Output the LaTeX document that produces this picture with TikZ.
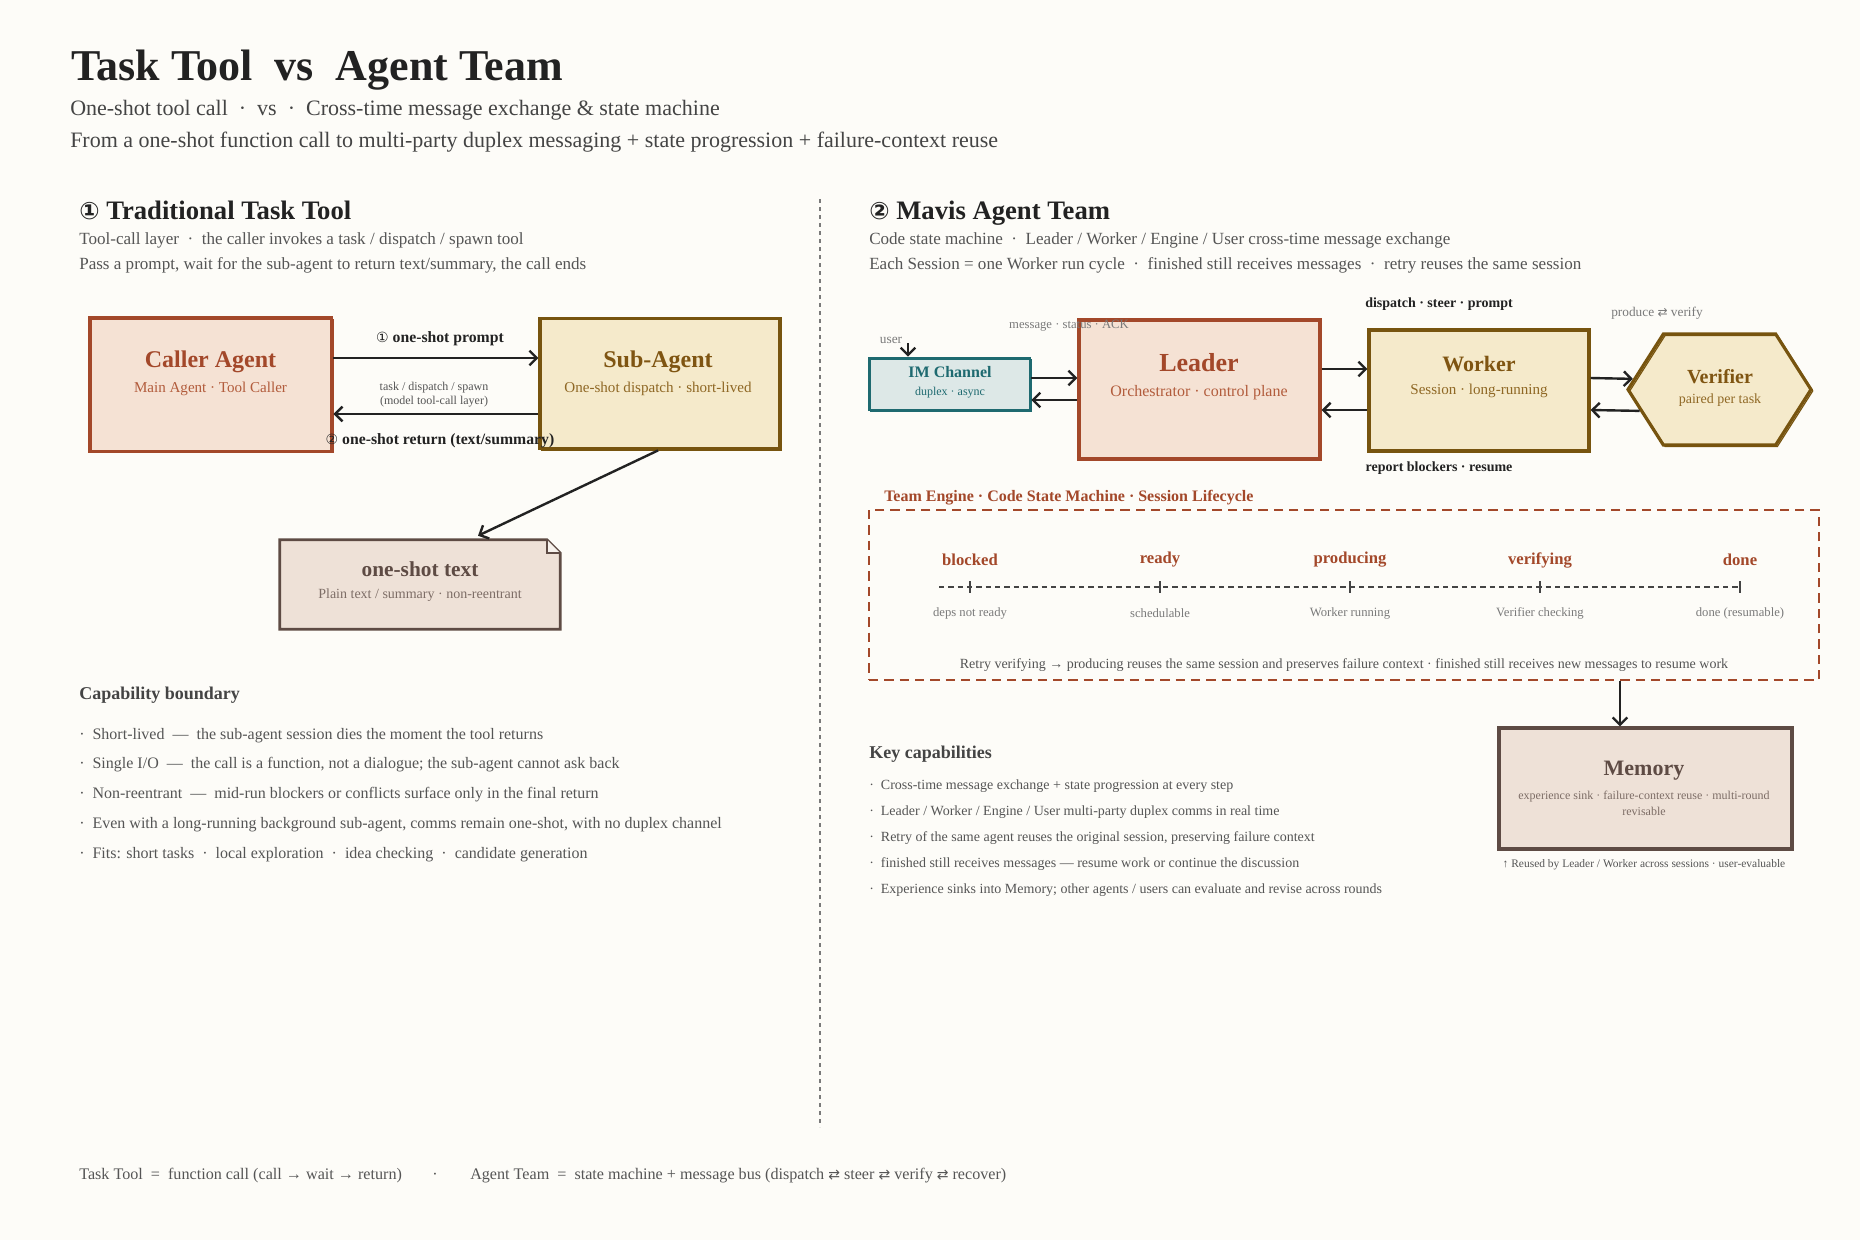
\documentclass[tikz,border=0pt]{standalone}
\usepackage{fontspec}
\setmainfont{Liberation Serif}
\newfontfamily\dvsym{DejaVu Sans}
\usepackage{tikz}
\usetikzlibrary{arrows.meta,positioning,calc,shapes.symbols}
\definecolor{paperBg}{HTML}{FDFCF8}
\definecolor{inkDark}{HTML}{222222}
\definecolor{inkMid}{HTML}{444444}
\definecolor{inkGray}{HTML}{555555}
\definecolor{inkSoft}{HTML}{7A7A7A}
\definecolor{rustLine}{HTML}{A3482A}
\definecolor{rustSoft}{HTML}{B25C3C}
\definecolor{rustFill}{HTML}{F5E2D4}
\definecolor{ochreLine}{HTML}{77540F}
\definecolor{ochreText}{HTML}{7F5512}
\definecolor{ochreSoft}{HTML}{8F6825}
\definecolor{ochreFill}{HTML}{F5EACB}
\definecolor{tealLine}{HTML}{1E6A70}
\definecolor{tealFill}{HTML}{DDE8E7}
\definecolor{umberLine}{HTML}{5E4B44}
\definecolor{umberSoft}{HTML}{7D6D66}
\definecolor{umberFill}{HTML}{EEE1D7}
\newcommand{\fsz}[1]{\fontsize{#1}{#1}\selectfont}
\tikzset{
  txt/.style={anchor=base west,inner sep=0pt},
  lbl/.style={inner sep=0pt},
  actor/.style={draw,line width=2.4pt,inner sep=0pt,
    postaction={draw,line width=0.9pt,transform canvas={shift={(1.3pt,-1.1pt)}}}},
  boxtitle/.style={inner sep=0pt,font=\bfseries\fsz{18}},
  boxsub/.style={inner sep=0pt,font=\fsz{11.3}},
  flow/.style={->,line width=1.8pt,inkDark},
  divider/.style={draw=inkSoft,line width=0.8pt,dash pattern=on 3pt off 3pt},
  engine/.style={draw=rustLine,line width=1.6pt,dash pattern=on 7pt off 4.5pt,inner sep=0pt},
  timeline/.style={draw=inkMid,line width=1pt,dash pattern=on 4pt off 3pt},
  tick/.style={draw=inkMid,line width=1.2pt},
  notebox/.style={draw=umberLine,line width=2pt,fill=umberFill}
}
\begin{document}
\begin{tikzpicture}[x=0.75pt,y=-0.75pt,>={Straight Barb[length=5.5pt,width=11pt]}]
  \fill[paperBg] (0,0) rectangle (1860,1240);
  \useasboundingbox (0,0) rectangle (1860,1240);

  % header
  \node[txt,font=\bfseries\fsz{33},text=inkDark] (title) at (71,80) {Task Tool\ \ vs\ \ Agent Team};
  \node[txt,font=\fsz{16.5},text=inkMid] (sub1) at (70,115) {One-shot tool call~~·~~vs~~·~~Cross-time message exchange \& state machine};
  \node[txt,font=\fsz{16.5},text=inkMid] (sub2) at (70,147) {From a one-shot function call to multi-party duplex messaging + state progression + failure-context reuse};
  \draw[divider] (820,199) -- (820,1127);

  % left: traditional task tool
  \node[txt,font=\bfseries\fsz{20},text=inkDark] (hleft) at (79,219) {{\dvsym\fsz{18}①} Traditional Task Tool};
  \node[txt,font=\fsz{12.8},text=inkGray] (hleft1) at (79,244) {Tool-call layer~~·~~the caller invokes a task / dispatch / spawn tool};
  \node[txt,font=\fsz{12.8},text=inkGray] (hleft2) at (79,269) {Pass a prompt, wait for the sub-agent to return text/summary, the call ends};

  \node[actor,draw=rustLine,fill=rustFill,minimum width=182pt,minimum height=100pt] (caller) at (210.5,384.5) {};
  \node[boxtitle,text=rustLine] (callerT) at (210.5,362) {Caller Agent};
  \node[boxsub,text=rustSoft] (callerS) at (210.5,389) {Main Agent · Tool Caller};
  \node[actor,draw=ochreLine,fill=ochreFill,minimum width=180pt,minimum height=98pt] (sub) at (660,383.5) {};
  \node[boxtitle,text=ochreText] (subT) at (658,362) {Sub-Agent};
  \node[boxsub,text=ochreSoft] (subS) at (658,389) {One-shot dispatch · short-lived};

  \draw[flow] (caller.east |- 0,358) -- (sub.west |- 0,358);
  \draw[flow] (sub.west |- 0,414) -- (caller.east |- 0,414);
  \node[lbl,font=\bfseries\fsz{11.8},text=inkDark] (lprompt) at (440,339) {{\dvsym\mdseries\fsz{10.5}①} one-shot prompt};
  \node[lbl,font=\fsz{9},text=inkGray] (ltask) at (434,388) {task / dispatch / spawn};
  \node[lbl,font=\fsz{9},text=inkGray] (ltool) at (434,402) {(model tool-call layer)};
  \node[lbl,font=\bfseries\fsz{11.8},text=inkDark] (lreturn) at (440,441) {{\dvsym\mdseries\fsz{10.5}②} one-shot return (text/summary)};

  \node[lbl,minimum width=210pt,minimum height=66.75pt] (note) at (420,584.5) {};
  \filldraw[notebox] (note.north west) -- ([xshift=-10pt]note.north east) -- ([yshift=-10pt]note.north east)
    -- (note.south east) -- (note.south west) -- cycle;
  \draw[notebox,fill=white!55!umberFill,line width=1.2pt] ([xshift=-10pt]note.north east)
    -- ([xshift=-10pt,yshift=-10pt]note.north east) -- ([yshift=-10pt]note.north east);
  \node[boxtitle,font=\bfseries\fsz{16},text=umberLine] (noteT) at (420,569) {one-shot text};
  \node[boxsub,font=\fsz{10.5},text=umberSoft] (noteS) at (420,595) {Plain text / summary · non-reentrant};
  \draw[flow] (658,0 |- sub.south) -- ([yshift=3pt]478,0 |- note.north);

  \node[txt,font=\bfseries\fsz{13.5},text=inkMid] (capH) at (79,699) {Capability boundary};
  \foreach \t [count=\i] in {{Short-lived~~—~~the sub-agent session dies the moment the tool returns},
      {Single I/O~~—~~the call is a function, not a dialogue; the sub-agent cannot ask back},
      {Non-reentrant~~—~~mid-run blockers or conflicts surface only in the final return},
      {Even with a long-running background sub-agent, comms remain one-shot, with no duplex channel},
      {Fits: short tasks~~·~~local exploration~~·~~idea checking~~·~~candidate generation}}
    \node[txt,font=\fsz{12},text=inkGray] (cap\i) at (79,{739+(\i-1)*29.9}) {·~~\t};

  % right: mavis agent team
  \node[txt,font=\bfseries\fsz{20},text=inkDark] (hright) at (869,219) {{\dvsym\fsz{18}②} Mavis Agent Team};
  \node[txt,font=\fsz{12.8},text=inkGray] (hright1) at (869,244) {Code state machine~~·~~Leader / Worker / Engine / User cross-time message exchange};
  \node[txt,font=\fsz{12.8},text=inkGray] (hright2) at (869,269) {Each Session = one Worker run cycle~~·~~finished still receives messages~~·~~retry reuses the same session};

  \node[actor,line width=2pt,draw=tealLine,fill=tealFill,minimum width=120.75pt,minimum height=39pt] (im) at (949.5,384) {};
  \node[boxtitle,font=\bfseries\fsz{12},text=tealLine] (imT) at (950,372) {IM Channel};
  \node[boxsub,font=\fsz{9},text=tealLine] (imS) at (950,393) {duplex · async};
  \node[lbl,font=\fsz{10},text=inkSoft] (user) at (891,340) {user};
  \coordinate (userpt) at (908,343);
  \draw[flow] (userpt) -- (userpt |- im.north);

  \node[actor,draw=rustLine,fill=rustFill,minimum width=180.75pt,minimum height=104.25pt] (leader) at (1199.5,389.5) {};
  \node[lbl,font=\fsz{9.5},text=inkSoft] (lmsg) at (1069,326) {message · status · ACK};
  \node[boxtitle,font=\bfseries\fsz{19.5},text=rustLine] (leaderT) at (1199,363) {Leader};
  \node[boxsub,font=\fsz{12},text=rustSoft] (leaderS) at (1199,393) {Orchestrator · control plane};
  \node[actor,draw=ochreLine,fill=ochreFill,minimum width=165pt,minimum height=90.75pt] (worker) at (1479,390.5) {};
  \node[boxtitle,font=\bfseries\fsz{16.5},text=ochreText] (workerT) at (1479,364) {Worker};
  \node[boxsub,text=ochreSoft] (workerS) at (1479,391) {Session · long-running};
  \node[actor,signal,signal to=east and west,signal pointer angle=115,draw=ochreLine,fill=ochreFill,
    minimum width=137.25pt,minimum height=83.25pt] (ver) at (1719.5,389.5) {};
  \node[boxtitle,font=\bfseries\fsz{15},text=ochreText] (verT) at (1720,377) {Verifier};
  \node[boxsub,font=\fsz{10.5},text=ochreSoft] (verS) at (1720,400) {paired per task};

  \draw[flow] (im.east |- 0,378) -- (leader.west |- 0,378);
  \draw[flow] (leader.west |- 0,400) -- (im.east |- 0,400);
  \draw[flow] (leader.east |- 0,369) -- (worker.west |- 0,369);
  \draw[flow] (worker.west |- 0,410) -- (leader.east |- 0,410);
  \draw[flow] (worker.east |- 0,378) -- (ver.173);
  \draw[flow] (ver.195) -- (worker.east |- 0,410);
  \node[lbl,font=\bfseries\fsz{10.5},text=inkDark] (ldispatch) at (1439,304) {dispatch · steer · prompt};
  \node[lbl,font=\bfseries\fsz{10.5},text=inkDark] (lreport) at (1439,468) {report blockers · resume};
  \node[lbl,font=\fsz{10},text=inkSoft] (lpv) at (1657,313) {produce {\dvsym\fsz{9}⇄} verify};

  % team engine
  \node[txt,font=\bfseries\fsz{12},text=rustLine] (engineH) at (884,501) {Team Engine · Code State Machine · Session Lifecycle};
  \node[engine,minimum width=712.5pt,minimum height=127.5pt] (engine) at (1344,595) {};
  \coordinate (tlstart) at (939,587);
  \foreach \x/\s/\d [count=\i] in {970/blocked/deps not ready, 1160/ready/schedulable, 1350/producing/Worker running,
      1540/verifying/Verifier checking, 1740/done/done (resumable)} {
    \node[lbl,font=\bfseries\fsz{12.5},text=rustLine] (st\i) at (\x,560) {\s};
    \node[lbl,font=\fsz{9.5},text=inkSoft] (sd\i) at (\x,613) {\d};
    \draw[tick] (\x,581) -- (\x,593);
  }
  \draw[timeline] (tlstart) -- (st5 |- tlstart);
  \node[lbl,font=\fsz{10.5},text=inkGray] (lretry) at (1344,665) {Retry verifying → producing reuses the same session and preserves failure context · finished still receives new messages to resume work};

  \node[actor,draw=umberLine,fill=umberFill,minimum width=219.75pt,minimum height=90.75pt] (mem) at (1645.5,788.5) {};
  \node[boxtitle,font=\bfseries\fsz{16.5},text=umberLine] (memT) at (1644,771) {Memory};
  \node[lbl,font=\fsz{9},text=umberSoft,align=center] (memS) at (1644,803) {experience sink · failure-context reuse · multi-round\\[3pt]revisable};
  \draw[flow] (1620,0 |- engine.south) -- (1620,0 |- mem.north);
  \node[lbl,font=\fsz{8.6},text=inkGray] (memC) at (1644,865) {↑ Reused by Leader / Worker across sessions · user-evaluable};

  \node[txt,font=\bfseries\fsz{13.5},text=inkMid] (keyH) at (869,758) {Key capabilities};
  \foreach \t [count=\i] in {{Cross-time message exchange + state progression at every step},
      {Leader / Worker / Engine / User multi-party duplex comms in real time},
      {Retry of the same agent reuses the original session, preserving failure context},
      {finished still receives messages — resume work or continue the discussion},
      {Experience sinks into Memory; other agents / users can evaluate and revise across rounds}}
    \node[txt,font=\fsz{10.5},text=inkGray] (key\i) at (869,{789+(\i-1)*26}) {·~~\t};

  % footer
  \node[txt,font=\fsz{12.1},text=inkGray] (footL) at (79,1179) {Task Tool~~=~~function call (call → wait → return)};
  \node[txt,font=\fsz{12.1},text=inkGray] (footDot) at (432,1179) {·};
  \node[txt,font=\fsz{12.1},text=inkGray] (footR) at (470,1179) {Agent Team~~=~~state machine + message bus (dispatch {\dvsym\fsz{10.5}⇄} steer {\dvsym\fsz{10.5}⇄} verify {\dvsym\fsz{10.5}⇄} recover)};
\end{tikzpicture}
\end{document}
